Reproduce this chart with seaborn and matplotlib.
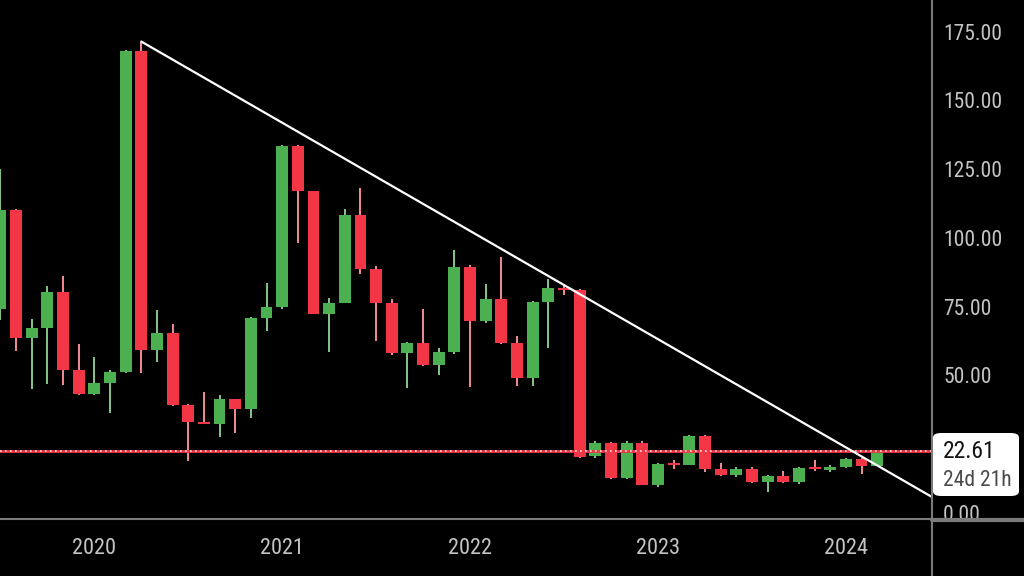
"""Monthly candlestick chart with a falling trend line, drawn in a TradingView-like dark style."""
import pandas as pd
import matplotlib
matplotlib.use('Agg')
import matplotlib.pyplot as plt
import seaborn as sns
from matplotlib.lines import Line2D
from matplotlib.patches import Rectangle, FancyBboxPatch

# monthly candles, Jul 2019 .. Mar 2024
months = ['2019-07', '2019-08', '2019-09', '2019-10', '2019-11', '2019-12',
          '2020-01', '2020-02', '2020-03', '2020-04', '2020-05', '2020-06',
          '2020-07', '2020-08', '2020-09', '2020-10', '2020-11', '2020-12',
          '2021-01', '2021-02', '2021-03', '2021-04', '2021-05', '2021-06',
          '2021-07', '2021-08', '2021-09', '2021-10', '2021-11', '2021-12',
          '2022-01', '2022-02', '2022-03', '2022-04', '2022-05', '2022-06',
          '2022-07', '2022-08', '2022-09', '2022-10', '2022-11', '2022-12',
          '2023-01', '2023-02', '2023-03', '2023-04', '2023-05', '2023-06',
          '2023-07', '2023-08', '2023-09', '2023-10', '2023-11', '2023-12',
          '2024-01', '2024-02', '2024-03']
opens = [74, 110, 63.5, 67.4, 80.3, 52,
         43.3, 47.4, 51.4, 168.1, 59.3, 65.3,
         39.3, 32.9, 32.4, 41.3, 37.7, 70.8,
         74.7, 133.5, 117.1, 72.4, 76.5, 108.4,
         88.6, 76.3, 58.1, 61.9, 53.8, 58.4,
         89.6, 69.7, 77.7, 61.7, 49.2, 76.8,
         81.7, 81.1, 20.7, 25.3, 12.6, 25.6,
         10.2, 18.0, 17.5, 28.1, 16.0, 13.8,
         16.0, 11.2, 13.5, 11.2, 16.6, 15.6,
         16.6, 19.5, 17.1]
highs = [125, 110.5, 70.5, 82.5, 86.2, 61.3,
         56.8, 52, 168.4, 171.4, 73.8, 68.6,
         39.5, 44.1, 42.9, 41.6, 71.3, 83.5,
         133.6, 133.6, 117.2, 78.1, 110.5, 118.1,
         89.9, 77.7, 62.3, 74.1, 59.9, 95.6,
         90, 83.2, 93, 64.5, 77.2, 85.1,
         82.7, 81.3, 26.2, 25.7, 26.2, 26.0,
         18.0, 19.3, 28.5, 28.5, 18.3, 16.8,
         16.8, 13.8, 15.3, 16.8, 19.3, 17.5,
         19.8, 19.8, 22.61]
lows = [70, 59, 45, 46.8, 46.5, 43,
        43, 36.3, 51, 50.8, 55, 39,
        18.9, 32.2, 27.7, 29, 34.4, 66.2,
        74.2, 98.1, 72.2, 58.7, 76.2, 86.9,
        62.5, 57.5, 45.6, 53.5, 50.2, 57.8,
        45.9, 69.2, 61.5, 46.3, 46.3, 60.1,
        79.3, 19.9, 19.9, 12.4, 12.4, 10.0,
        9.3, 15.9, 17.3, 14.8, 13.6, 13.0,
        11.0, 7.7, 11.0, 10.5, 15.4, 15.0,
        16.4, 14.1, 17.0]
closes = [110, 63.6, 67.4, 80.3, 52, 43.3,
          47.4, 51.4, 168.1, 59.3, 65.3, 39.3,
          33.2, 32.4, 41.3, 37.7, 70.8, 74.7,
          133.5, 117.1, 72.4, 76.5, 108.4, 88.6,
          76.3, 58.1, 61.9, 53.8, 58.4, 89.6,
          69.9, 77.7, 61.7, 49.2, 76.8, 81.7,
          81.2, 20.5, 25.3, 12.6, 25.6, 10.2,
          17.7, 17.6, 28.1, 16.0, 13.8, 16.0,
          11.2, 13.5, 11.2, 16.5, 16.3, 16.6,
          19.5, 17.1, 22.61]

# trend line anchors (candle index, price)
trend_x = [9, 59.5]
trend_y = [171.4, 5.8]

last_price = 22.61
countdown = '24d 21h'
# 25.00 sits under the last price label, so it is not shown
price_ticks = [0, 50, 75, 100, 125, 150, 175]

GREEN = '#4caf50'
RED = '#f23645'
GREEN_WICK = '#86c789'
RED_WICK = '#f28c95'
AXIS_GREY = '#7b7b7b'
LABEL_GREY = '#c4c4c4'


def build_frame():
    """Puts the candle lists into a DataFrame with an integer x position."""
    df = pd.DataFrame({'month': months, 'open': opens, 'high': highs,
                       'low': lows, 'close': closes})
    df['x'] = range(len(df))
    df['up'] = df.close >= df.open
    return df


def draw_candles(ax, df):
    """Wicks as vertical lines, bodies as bars."""
    wick_cols = [GREEN_WICK if u else RED_WICK for u in df.up]
    body_cols = [GREEN if u else RED for u in df.up]
    ax.vlines(df.x, df.low, df.high, colors=wick_cols, linewidth=1.4, zorder=2)
    body = (df.close - df.open).where((df.close - df.open).abs() > 0.6,
                                      df.up.map({True: 0.6, False: -0.6}))
    ax.bar(df.x, body, bottom=df.open, width=0.76, color=body_cols,
           linewidth=0, zorder=3)


def main():
    sns.set_theme(style='dark', rc={'axes.facecolor': 'black',
                                    'figure.facecolor': 'black'})
    plt.rcParams['font.family'] = ['Roboto Condensed', 'Roboto', 'DejaVu Sans']

    fig = plt.figure(figsize=(10.24, 5.76), dpi=100, facecolor='black')
    W, H = 1024, 576
    ax = fig.add_axes([0, 57 / H, 932 / W, 519 / H])
    ax.set_facecolor('black')

    df = build_frame()
    draw_candles(ax, df)

    # last price line, red with white dots
    ax.axhline(last_price, color=RED, linewidth=2.0, zorder=4)
    ax.axhline(last_price, color='white', linewidth=1.2, linestyle=(0, (1, 2)),
               alpha=0.85, zorder=4)

    # falling trend line
    sns.lineplot(x=trend_x, y=trend_y, ax=ax, color='white', linewidth=1.6,
                 zorder=5)

    ax.set_xlim(-0.02, 59.5)
    ax.set_ylim(-2.2, 186.5)
    for s in ax.spines.values():
        s.set_visible(False)
    ax.grid(False)

    # year labels at each January
    jan = df[df.month.str.endswith('-01')]
    ax.set_xticks(jan.x, [m[:4] for m in jan.month])
    ax.yaxis.tick_right()
    ax.set_yticks(price_ticks, ['{:.2f}'.format(v) for v in price_ticks])
    ax.tick_params(axis='x', length=0, pad=14, labelsize=16, labelcolor=LABEL_GREY)
    ax.tick_params(axis='y', length=0, pad=8, labelsize=15.5, labelcolor=LABEL_GREY)

    # price scale corner box hides the lower half of 0.00
    fig.add_artist(Rectangle((932 / W, 0), 92 / W, 57 / H, transform=fig.transFigure,
                             facecolor='black', edgecolor='none', zorder=6))
    fig.add_artist(Line2D([932 / W, 932 / W], [0, 1], transform=fig.transFigure,
                          color=AXIS_GREY, linewidth=1.5, zorder=7))
    fig.add_artist(Line2D([0, 932 / W], [57 / H, 57 / H], transform=fig.transFigure,
                          color=AXIS_GREY, linewidth=1.5, zorder=7))
    fig.add_artist(Line2D([932 / W, 1], [56 / H, 56 / H], transform=fig.transFigure,
                          color=AXIS_GREY, linewidth=3.0, zorder=7))

    # last price label with countdown
    fig.add_artist(FancyBboxPatch((933 / W, (H - 496) / H), 86 / W, 63 / H,
                                  boxstyle='round,pad=0,rounding_size=0.008',
                                  transform=fig.transFigure, facecolor='white',
                                  edgecolor='none', zorder=8))
    fig.text(943 / W, (H - 452) / H, '{:.2f}'.format(last_price), color='#131313',
             fontsize=17, va='center', ha='left', zorder=9)
    fig.text(943 / W, (H - 480) / H, countdown, color='#4a4a4a',
             fontsize=15.5, va='center', ha='left', zorder=9)

    fig.savefig('out.png', dpi=100, facecolor='black')


if __name__ == '__main__':
    main()
